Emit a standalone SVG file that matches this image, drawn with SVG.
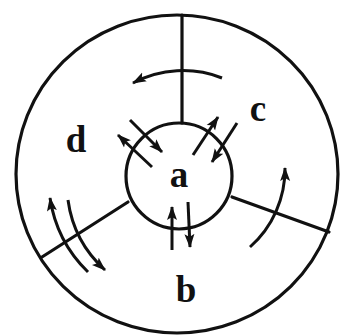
<svg xmlns="http://www.w3.org/2000/svg" width="340" height="335" viewBox="0 0 340 335">
<style>
.ln{fill:none;stroke:#111;stroke-width:3.2;stroke-linecap:round}
.ar{fill:none;stroke:#111;stroke-width:3;marker-end:url(#ah)}
.lb{font-family:"Liberation Serif","DejaVu Serif",serif;font-size:37px;font-weight:bold;fill:#111;text-anchor:middle}
</style>
<defs>
<marker id="ah" markerUnits="userSpaceOnUse" markerWidth="14" markerHeight="11" viewBox="0 0 14 11" refX="13" refY="5.5" orient="auto">
<path d="M0,0.5 L14,5.5 L0,10.5 L3,5.5 z" fill="#111"/>
</marker>
</defs>
<rect width="340" height="335" fill="#fff"/>
<g id="outer">
<ellipse cx="177" cy="174" rx="161" ry="159" class="ln"/>
</g>
<g id="dividers">
<line x1="182" y1="15" x2="182" y2="123" class="ln"/>
<line x1="128" y1="202" x2="42" y2="257" class="ln"/>
<line x1="232" y1="197" x2="329" y2="232" class="ln"/>
</g>
<g id="node-a">
<circle cx="179" cy="176" r="53" class="ln"/>
<text x="179" y="187" class="lb">a</text>
</g>
<g id="node-b"><text x="186" y="302" class="lb">b</text></g>
<g id="node-c"><text x="258" y="121" class="lb">c</text></g>
<g id="node-d"><text x="76" y="152" class="lb">d</text></g>
<g id="connectors">
<path d="M222,78 A107,107 0 0 0 133,83" class="ar"/>
<path d="M250,247 A104,104 0 0 0 285,168" class="ar"/>
<path d="M88,272 A130,130 0 0 1 50,198" class="ar"/>
<path d="M68,200 A115,115 0 0 0 105,270" class="ar"/>
<line x1="152" y1="167" x2="118" y2="135" class="ar"/>
<line x1="130" y1="120" x2="162" y2="152" class="ar"/>
<line x1="193" y1="155" x2="218" y2="117" class="ar"/>
<line x1="237" y1="123" x2="212" y2="162" class="ar"/>
<line x1="172" y1="250" x2="172" y2="207" class="ar"/>
<line x1="188" y1="202" x2="190" y2="247" class="ar"/>
</g>
</svg>
